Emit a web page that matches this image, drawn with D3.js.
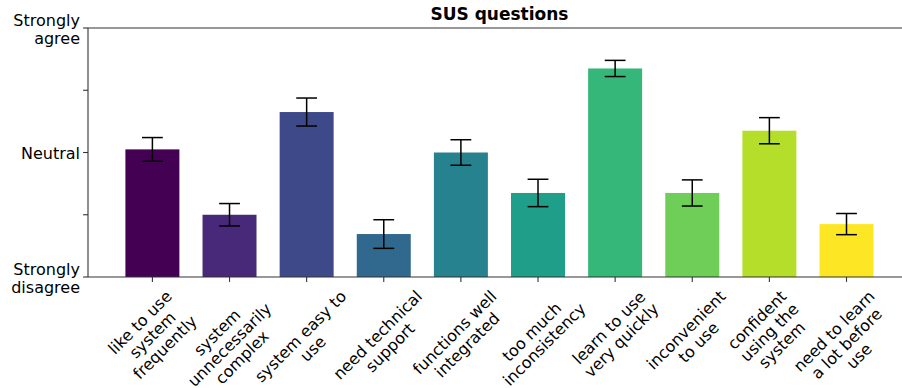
<!DOCTYPE html>
<html>
<head>
<meta charset="utf-8">
<script src="https://cdn.jsdelivr.net/npm/d3@7"></script>
<style>
  html, body { margin: 0; padding: 0; background: #fff; }
  svg { display: block; font-family: "DejaVu Sans", sans-serif; }
</style>
</head>
<body>
<svg id="chart" width="902" height="388"></svg>
<script>
// SUS questionnaire items (one label per bar, "\n" splits lines)
const questions = [
  "like to use\nsystem\nfrequently",
  "system\nunnecessarily\ncomplex",
  "system easy to\nuse",
  "need technical\nsupport",
  "functions well\nintegrated",
  "too much\ninconsistency",
  "learn to use\nvery quickly",
  "inconvenient\nto use",
  "confident\nusing the\nsystem",
  "need to learn\na lot before\nuse"
];
// mean response on the 1–5 Likert scale
const meanScores = [3.05, 2.00, 3.65, 1.69, 3.00, 2.35, 4.35, 2.35, 3.35, 1.85];
// error (half-length of the error bar)
const errors = [0.19, 0.18, 0.225, 0.23, 0.205, 0.22, 0.13, 0.21, 0.21, 0.17];
// y tick values and their labels
const yTickValues = [1, 2, 3, 4, 5];
const yTickLabels = ["Strongly\ndisagree", "", "Neutral", "", "Strongly\nagree"];
const chartTitle = "SUS questions";

const svg = d3.select("#chart");
const fontSize = 16;
const lineStep = 17.6;
const axisColor = "#333";

const plotLeft = 88, plotTop = 28, plotBottom = 277, plotRight = 910.9;
const x = d3.scaleLinear().domain([-0.835, 9.835]).range([plotLeft, plotRight]);
const y = d3.scaleLinear().domain([1, 5]).range([plotBottom, plotTop]);
const color = d3.scaleSequential(d3.interpolateViridis).domain([0, questions.length - 1]);
const step = x(1) - x(0);
const barW = step * 0.7;

// bars
svg.append("g").selectAll("rect")
  .data(meanScores)
  .join("rect")
  .attr("x", (d, i) => x(i) - barW / 2)
  .attr("width", barW)
  .attr("y", d => y(d))
  .attr("height", d => y(1) - y(d))
  .attr("fill", (d, i) => color(i));

// error bars
const eb = svg.append("g").attr("stroke", "#000").attr("stroke-width", 1.5);
const cap = 10.4;
meanScores.forEach((m, i) => {
  const cx = x(i);
  eb.append("line").attr("x1", cx).attr("x2", cx).attr("y1", y(m - errors[i])).attr("y2", y(m + errors[i]));
  eb.append("line").attr("x1", cx - cap).attr("x2", cx + cap).attr("y1", y(m - errors[i])).attr("y2", y(m - errors[i]));
  eb.append("line").attr("x1", cx - cap).attr("x2", cx + cap).attr("y1", y(m + errors[i])).attr("y2", y(m + errors[i]));
});

// spines: left, top, bottom
const spines = svg.append("g").attr("stroke", axisColor).attr("stroke-width", 1.1).attr("fill", "none");
spines.append("line").attr("x1", plotLeft).attr("x2", plotLeft).attr("y1", plotTop).attr("y2", plotBottom);
spines.append("line").attr("x1", plotLeft).attr("x2", 902).attr("y1", plotTop).attr("y2", plotTop);
spines.append("line").attr("x1", plotLeft).attr("x2", 902).attr("y1", plotBottom).attr("y2", plotBottom);

// y axis ticks and labels
const yAxis = svg.append("g");
yTickValues.forEach((v, i) => {
  const ty = y(v);
  yAxis.append("line").attr("x1", plotLeft - 4.9).attr("x2", plotLeft).attr("y1", ty).attr("y2", ty)
    .attr("stroke", axisColor).attr("stroke-width", 1.1);
  const lines = yTickLabels[i] ? yTickLabels[i].split("\n") : [];
  const n = lines.length;
  lines.forEach((ln, k) => {
    yAxis.append("text")
      .attr("x", 80)
      .attr("y", ty + 6.8 + (k - (n - 1) / 2) * lineStep)
      .attr("text-anchor", "end")
      .attr("font-size", fontSize)
      .attr("fill", "#000")
      .text(ln);
  });
});

// x axis ticks and rotated labels
const xAxis = svg.append("g");
questions.forEach((q, i) => {
  const tx = x(i);
  xAxis.append("line").attr("x1", tx).attr("x2", tx).attr("y1", plotBottom).attr("y2", plotBottom + 4.9)
    .attr("stroke", axisColor).attr("stroke-width", 1.1);
  const lines = q.split("\n");
  const n = lines.length;
  const g = xAxis.append("g");
  const texts = lines.map((ln, k) => g.append("text")
    .attr("text-anchor", "middle")
    .attr("font-size", fontSize)
    .attr("fill", "#000")
    .attr("y", (k - (n - 1) / 2) * lineStep + 5.6)
    .text(ln));
  const W = d3.max(texts, t => t.node().getComputedTextLength());
  const H = (n - 1) * lineStep + 18.6;
  const half = (W + H) / (2 * Math.SQRT2);
  const labelTop = plotBottom + 4.9 + 4.9;
  g.attr("transform", `translate(${tx},${labelTop + half}) rotate(-45)`);
});

// title
svg.append("text")
  .attr("x", (plotLeft + plotRight) / 2)
  .attr("y", 20)
  .attr("text-anchor", "middle")
  .attr("font-size", 17)
  .attr("font-weight", "bold")
  .attr("fill", "#000")
  .text(chartTitle);
</script>
</body>
</html>
